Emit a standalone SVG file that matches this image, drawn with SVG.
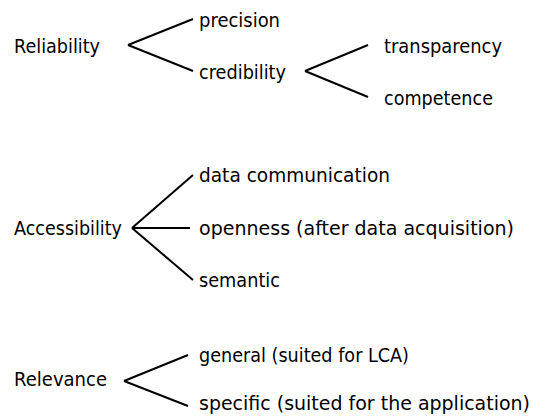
<svg xmlns="http://www.w3.org/2000/svg" width="533" height="420" viewBox="0 0 533 420">
<style>
text{font-family:"DejaVu Sans","Verdana",sans-serif;font-size:19px;fill:#000}
.c line{stroke:#000;stroke-width:2;stroke-linecap:butt}
</style>
<rect width="533" height="420" fill="#fff"/>
<g class="c" id="connectors">
<line x1="128" y1="45" x2="193" y2="19"/>
<line x1="128" y1="45" x2="193" y2="71"/>
<line x1="305" y1="71" x2="368" y2="45"/>
<line x1="305" y1="71" x2="368" y2="97"/>
<line x1="132" y1="228" x2="193" y2="175"/>
<line x1="132" y1="228" x2="190" y2="228"/>
<line x1="132" y1="228" x2="193" y2="280"/>
<line x1="124" y1="381" x2="188" y2="355"/>
<line x1="124" y1="381" x2="188" y2="406"/>
</g>
<g id="reliability"><text x="14" y="53" textLength="86" lengthAdjust="spacingAndGlyphs">Reliability</text></g>
<g id="precision"><text x="199" y="27" textLength="81" lengthAdjust="spacingAndGlyphs">precision</text></g>
<g id="credibility"><text x="199" y="79" textLength="87" lengthAdjust="spacingAndGlyphs">credibility</text></g>
<g id="transparency"><text x="384" y="53" textLength="118" lengthAdjust="spacingAndGlyphs">transparency</text></g>
<g id="competence"><text x="384" y="105" textLength="109" lengthAdjust="spacingAndGlyphs">competence</text></g>
<g id="accessibility"><text x="14" y="235" textLength="108" lengthAdjust="spacingAndGlyphs">Accessibility</text></g>
<g id="data-communication"><text x="199" y="182" textLength="191" lengthAdjust="spacingAndGlyphs">data communication</text></g>
<g id="openness"><text x="199" y="235" textLength="315" lengthAdjust="spacingAndGlyphs">openness (after data acquisition)</text></g>
<g id="semantic"><text x="199" y="287" textLength="81" lengthAdjust="spacingAndGlyphs">semantic</text></g>
<g id="relevance"><text x="14" y="386" textLength="93" lengthAdjust="spacingAndGlyphs">Relevance</text></g>
<g id="general"><text x="199" y="362" textLength="210" lengthAdjust="spacingAndGlyphs">general (suited for LCA)</text></g>
<g id="specific"><text x="199" y="410" textLength="331" lengthAdjust="spacingAndGlyphs">specific (suited for the application)</text></g>
</svg>
